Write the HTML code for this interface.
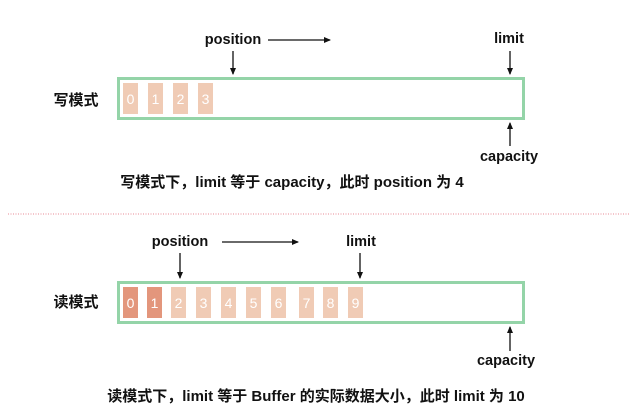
<!DOCTYPE html>
<html><head><meta charset="utf-8"><style>
html,body{margin:0;padding:0;background:#fff;}
svg{display:block;}
text{font-family:"Liberation Sans","Noto Sans CJK SC",sans-serif;font-weight:bold;fill:#111;}
.n{fill:#fff;font-weight:normal;font-size:14px;}
</style></head><body>
<svg width="629" height="414" viewBox="0 0 629 414" xmlns="http://www.w3.org/2000/svg">
<defs><marker id="a" markerWidth="8" markerHeight="8" refX="6" refY="4" orient="auto" markerUnits="userSpaceOnUse"><path d="M0,1 L7,4 L0,7 z" fill="#111"/></marker></defs>
<!-- top -->
<text x="233" y="44" font-size="14.5" text-anchor="middle">position</text>
<line x1="268" y1="40" x2="330" y2="40" stroke="#111" stroke-width="1.3" marker-end="url(#a)"/>
<line x1="233" y1="51" x2="233" y2="74" stroke="#111" stroke-width="1.3" marker-end="url(#a)"/>
<text x="509" y="43" font-size="14.5" text-anchor="middle">limit</text>
<line x1="510" y1="51" x2="510" y2="74" stroke="#111" stroke-width="1.3" marker-end="url(#a)"/>
<rect x="118.5" y="78.5" width="405" height="40" fill="#fff" stroke="#94d4a8" stroke-width="3"/>
<text x="76" y="105" font-size="15" text-anchor="middle">写模式</text>
<g fill="#f0cbb5">
<rect x="123" y="83" width="15" height="31"/><rect x="148" y="83" width="15" height="31"/><rect x="173" y="83" width="15" height="31"/><rect x="198" y="83" width="15" height="31"/></g>
<text class="n" x="130.5" y="104" text-anchor="middle">0</text><text class="n" x="155.5" y="104" text-anchor="middle">1</text><text class="n" x="180.5" y="104" text-anchor="middle">2</text><text class="n" x="205.5" y="104" text-anchor="middle">3</text>
<line x1="510" y1="146" x2="510" y2="123" stroke="#111" stroke-width="1.3" marker-end="url(#a)"/>
<text x="509" y="161" font-size="14.5" text-anchor="middle">capacity</text>
<text x="292" y="187" font-size="15" text-anchor="middle">写模式下，limit 等于 capacity，此时 position 为 4</text>
<line x1="8" y1="214" x2="629" y2="214" stroke="#e88a96" stroke-width="1" stroke-dasharray="1,1.5"/>
<!-- bottom -->
<text x="180" y="246" font-size="14.5" text-anchor="middle">position</text>
<line x1="222" y1="242" x2="298" y2="242" stroke="#111" stroke-width="1.3" marker-end="url(#a)"/>
<line x1="180" y1="253" x2="180" y2="278" stroke="#111" stroke-width="1.3" marker-end="url(#a)"/>
<text x="361" y="246" font-size="14.5" text-anchor="middle">limit</text>
<line x1="360" y1="253" x2="360" y2="278" stroke="#111" stroke-width="1.3" marker-end="url(#a)"/>
<rect x="118.5" y="282.5" width="405" height="40" fill="#fff" stroke="#94d4a8" stroke-width="3"/>
<text x="76" y="307" font-size="15" text-anchor="middle">读模式</text>
<g fill="#e3967c"><rect x="123" y="287" width="15" height="31"/><rect x="147" y="287" width="15" height="31"/></g>
<g fill="#f0cbb5">
<rect x="171" y="287" width="15" height="31"/><rect x="196" y="287" width="15" height="31"/><rect x="221" y="287" width="15" height="31"/><rect x="246" y="287" width="15" height="31"/><rect x="271" y="287" width="15" height="31"/><rect x="299" y="287" width="15" height="31"/><rect x="323" y="287" width="15" height="31"/><rect x="348" y="287" width="15" height="31"/></g>
<g>
<text class="n" x="130.5" y="308" text-anchor="middle">0</text><text class="n" x="154.5" y="308" text-anchor="middle">1</text><text class="n" x="178.5" y="308" text-anchor="middle">2</text><text class="n" x="203.5" y="308" text-anchor="middle">3</text><text class="n" x="228.5" y="308" text-anchor="middle">4</text><text class="n" x="253.5" y="308" text-anchor="middle">5</text><text class="n" x="278.5" y="308" text-anchor="middle">6</text><text class="n" x="306.5" y="308" text-anchor="middle">7</text><text class="n" x="330.5" y="308" text-anchor="middle">8</text><text class="n" x="355.5" y="308" text-anchor="middle">9</text></g>
<line x1="510" y1="351" x2="510" y2="327" stroke="#111" stroke-width="1.3" marker-end="url(#a)"/>
<text x="506" y="365" font-size="14.5" text-anchor="middle">capacity</text>
<text x="316" y="401" font-size="15" text-anchor="middle">读模式下，limit 等于 Buffer 的实际数据大小，此时 limit 为 10</text>
</svg>
</body></html>
